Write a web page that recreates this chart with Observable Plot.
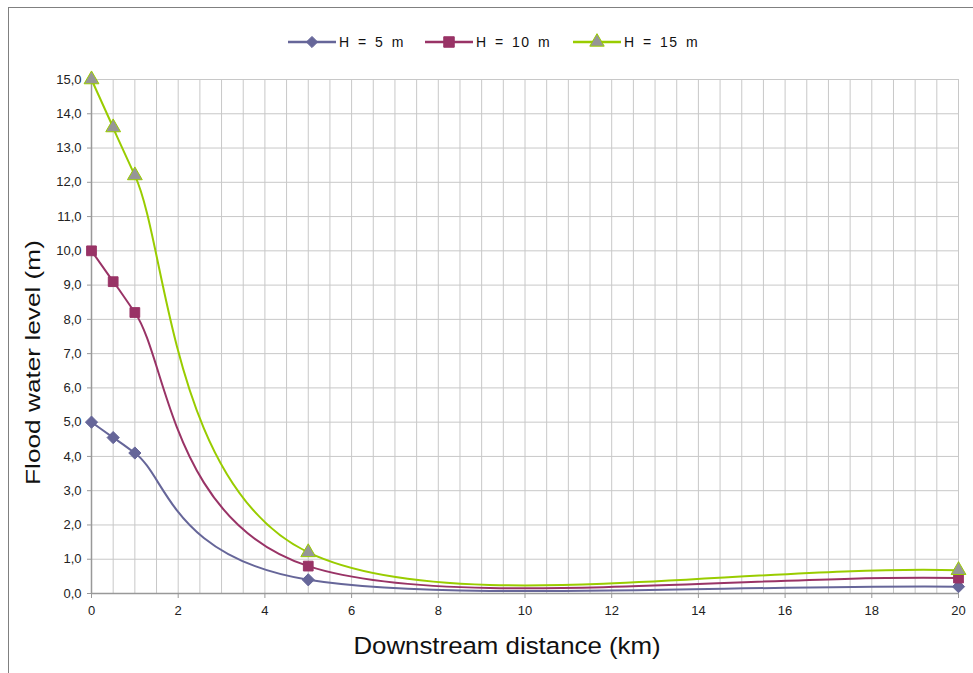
<!DOCTYPE html>
<html>
<head>
<meta charset="utf-8">
<script src="https://cdn.jsdelivr.net/npm/d3@7"></script>
<script src="https://cdn.jsdelivr.net/npm/@observablehq/plot@0.6"></script>
<style>
  html, body { margin: 0; padding: 0; background: #fff; }
  body { width: 973px; height: 673px; position: relative; overflow: hidden; font-family: "Liberation Sans", Arial, sans-serif; }
  #frame { position: absolute; left: 8px; top: 7px; width: 1000px; height: 700px; border-top: 1px solid #808080; border-left: 1px solid #808080; }
  #legend { position: relative; height: 60px; }
  .item { position: absolute; top: 33px; height: 18px; display: flex; align-items: center; font-size: 14px; color: #111; letter-spacing: 1.5px; word-spacing: 2px; white-space: pre; }
  #chart { position: relative; }
</style>
</head>
<body>
<div id="frame"></div>
<div id="legend"></div>
<div id="chart"></div>
<script>
// Data
const distance = [0, 0.5, 1, 5, 20];
const h5 = [5.0, 4.55, 4.1, 0.4, 0.2];
const h10 = [10.0, 9.1, 8.2, 0.8, 0.45];
const h15 = [15.0, 13.6, 12.2, 1.2, 0.68];
const seriesNames = ["H = 5 m", "H = 10 m", "H = 15 m"];
const seriesColors = ["#666699", "#993366", "#99CC00"];
const markerFill = ["#666699", "#993366", "#969696"];
const markerSymbols = ["diamond2", "square", "triangle"];
const xTickLabels = [0, 2, 4, 6, 8, 10, 12, 14, 16, 18, 20];
const yTickLabels = [0, 1, 2, 3, 4, 5, 6, 7, 8, 9, 10, 11, 12, 13, 14, 15];

const values = [h5, h10, h15];
const rows = [];
values.forEach((arr, si) => arr.forEach((v, i) => rows.push({series: seriesNames[si], x: distance[i], y: v, si})));

// Spreadsheet-style smoothed line: Bezier with 1/6 tangents, reflected end points
function SmoothCurve(context) { this._context = context; }
SmoothCurve.prototype = {
  areaStart() { this._line = 0; },
  areaEnd() { this._line = NaN; },
  lineStart() { this._pts = []; },
  point(x, y) { this._pts.push([+x, +y]); },
  lineEnd() {
    const p = this._pts, n = p.length, c = this._context;
    if (!n) return;
    c.moveTo(p[0][0], p[0][1]);
    if (n === 2) { c.lineTo(p[1][0], p[1][1]); return; }
    for (let i = 0; i < n - 1; i++) {
      const p1 = p[i], p2 = p[i + 1];
      const p0 = i > 0 ? p[i - 1] : [2 * p1[0] - p2[0], 2 * p1[1] - p2[1]];
      const p3 = i + 2 < n ? p[i + 2] : [2 * p2[0] - p1[0], 2 * p2[1] - p1[1]];
      c.bezierCurveTo(
        p1[0] + (p2[0] - p0[0]) / 6, p1[1] + (p2[1] - p0[1]) / 6,
        p2[0] - (p3[0] - p1[0]) / 6, p2[1] - (p3[1] - p1[1]) / 6,
        p2[0], p2[1]);
    }
  }
};
const smoothCurve = context => new SmoothCurve(context);

const fmt = d => d3.format(".1f")(d).replace(".", ",");
const xGrid = d3.range(0, 20.001, 0.5);
const font = "Liberation Sans, Arial, sans-serif";

const marks = [
  Plot.ruleX(xGrid, {stroke: "#c8c8c8", strokeWidth: 1}),
  Plot.ruleY(yTickLabels, {stroke: "#c8c8c8", strokeWidth: 1}),
  Plot.ruleX([0], {stroke: "#999", strokeWidth: 1.5}),
  Plot.ruleY([0], {stroke: "#999", strokeWidth: 1.5}),
  Plot.axisX({ticks: xTickLabels, tickSize: 5, tickPadding: 7, fontSize: 13, stroke: "#999", label: null, tickFormat: d => String(d)}),
  Plot.axisY({ticks: yTickLabels, tickSize: 4, tickPadding: 6, fontSize: 13, stroke: "#999", label: null, tickFormat: fmt}),
];
values.forEach((arr, si) => {
  const data = rows.filter(r => r.si === si);
  marks.push(Plot.line(data, {x: "x", y: "y", stroke: seriesColors[si], strokeWidth: 2, curve: smoothCurve}));
});
values.forEach((arr, si) => {
  const data = rows.filter(r => r.si === si);
  marks.push(Plot.dot(data, {x: "x", y: "y", symbol: () => markerSymbols[si], fill: markerFill[si], stroke: si === 2 ? "#99CC00" : markerFill[si], strokeWidth: 1, r: 5.5}));
});
marks.push(Plot.text(["Flood water level (m)"], {frameAnchor: "left", textAnchor: "middle", dx: -58, dy: 26, rotate: -90, fontSize: 20.5, fill: "#111", fontFamily: font, className: "ytitle"}));
marks.push(Plot.text(["Downstream distance (km)"], {frameAnchor: "bottom", textAnchor: "middle", dx: -18, dy: 60, fontSize: 23.5, fill: "#111", fontFamily: font, className: "xtitle"}));

const chart = Plot.plot({
  width: 973,
  height: 613,
  marginLeft: 91,
  marginRight: 15,
  marginTop: 19,
  marginBottom: 80,
  style: {fontFamily: font, color: "#222", background: "transparent", overflow: "visible"},
  x: {domain: [0, 20]},
  y: {domain: [0, 15]},
  marks
});
// stretch the axis titles along their length, as in the reference
chart.querySelectorAll(".ytitle text").forEach(t => t.setAttribute("transform", (t.getAttribute("transform") || "") + " scale(1.28,1)"));
chart.querySelectorAll(".xtitle text").forEach(t => t.setAttribute("transform", (t.getAttribute("transform") || "") + " scale(1.1,1)"));
document.getElementById("chart").appendChild(chart);

// Legend
const legend = document.getElementById("legend");
const legendX = [288, 425, 573];
seriesNames.forEach((name, i) => {
  const item = document.createElement("div");
  item.className = "item";
  item.style.left = legendX[i] + "px";
  const s = d3.create("svg").attr("width", 48).attr("height", 18).style("overflow", "visible");
  s.append("line").attr("x1", 0).attr("x2", 48).attr("y1", 9).attr("y2", 9).attr("stroke", seriesColors[i]).attr("stroke-width", 2.5);
  const sym = [d3.symbolDiamond2, d3.symbolSquare, d3.symbolTriangle][i];
  const size = [80, 110, 90][i];
  s.append("path").attr("d", d3.symbol(sym, size)()).attr("transform", "translate(24,9)")
    .attr("fill", markerFill[i]).attr("stroke", i === 2 ? "#99CC00" : markerFill[i]);
  item.appendChild(s.node());
  const t = document.createElement("span");
  t.textContent = name;
  t.style.marginLeft = "3px";
  item.appendChild(t);
  legend.appendChild(item);
});
</script>
</body>
</html>
